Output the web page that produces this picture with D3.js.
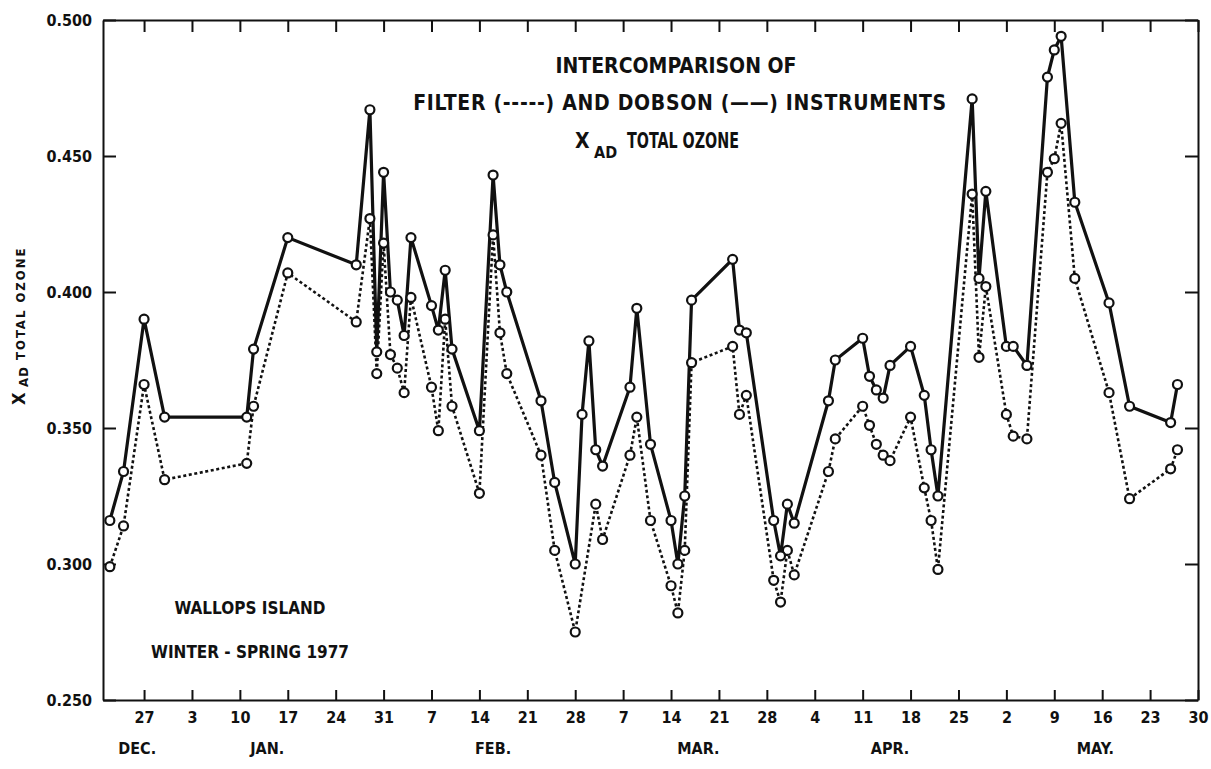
<!DOCTYPE html>
<html>
<head>
<meta charset="utf-8">
<script src="https://cdnjs.cloudflare.com/ajax/libs/d3/7.8.5/d3.min.js"></script>
<style>
  body { margin: 0; background: #fff; }
  svg text {
    font-family: "DejaVu Sans Condensed", "DejaVu Sans", sans-serif;
    font-stretch: condensed;
    font-weight: bold;
    fill: #111;
  }
</style>
</head>
<body>
<svg id="chart" width="1211" height="769"></svg>
<script>
// Dobson instrument (solid line)
var dobsonDates = [
  "1976-12-22", "1976-12-24", "1976-12-27", "1976-12-30", "1977-01-11", "1977-01-12",
  "1977-01-17", "1977-01-27", "1977-01-29", "1977-01-30", "1977-01-31", "1977-02-01",
  "1977-02-02", "1977-02-03", "1977-02-04", "1977-02-07", "1977-02-08", "1977-02-09",
  "1977-02-10", "1977-02-14", "1977-02-16", "1977-02-17", "1977-02-18", "1977-02-23",
  "1977-02-25", "1977-02-28", "1977-03-01", "1977-03-02", "1977-03-03", "1977-03-04",
  "1977-03-08", "1977-03-09", "1977-03-11", "1977-03-14", "1977-03-15", "1977-03-16",
  "1977-03-17", "1977-03-23", "1977-03-24", "1977-03-25", "1977-03-29", "1977-03-30",
  "1977-03-31", "1977-04-01", "1977-04-06", "1977-04-07", "1977-04-11", "1977-04-12",
  "1977-04-13", "1977-04-14", "1977-04-15", "1977-04-18", "1977-04-20", "1977-04-21",
  "1977-04-22", "1977-04-27", "1977-04-28", "1977-04-29", "1977-05-02", "1977-05-03",
  "1977-05-05", "1977-05-08", "1977-05-09", "1977-05-10", "1977-05-12", "1977-05-17",
  "1977-05-20", "1977-05-26", "1977-05-27"
];
var dobsonValues = [
  0.316, 0.334, 0.390, 0.354, 0.354, 0.379,
  0.420, 0.410, 0.467, 0.378, 0.444, 0.400,
  0.397, 0.384, 0.420, 0.395, 0.386, 0.408,
  0.379, 0.349, 0.443, 0.410, 0.400, 0.360,
  0.330, 0.300, 0.355, 0.382, 0.342, 0.336,
  0.365, 0.394, 0.344, 0.316, 0.300, 0.325,
  0.397, 0.412, 0.386, 0.385, 0.316, 0.303,
  0.322, 0.315, 0.360, 0.375, 0.383, 0.369,
  0.364, 0.361, 0.373, 0.380, 0.362, 0.342,
  0.325, 0.471, 0.405, 0.437, 0.380, 0.380,
  0.373, 0.479, 0.489, 0.494, 0.433, 0.396,
  0.358, 0.352, 0.366
];

// filter instrument (dotted line)
var filterDates = [
  "1976-12-22", "1976-12-24", "1976-12-27", "1976-12-30", "1977-01-11", "1977-01-12",
  "1977-01-17", "1977-01-27", "1977-01-29", "1977-01-30", "1977-01-31", "1977-02-01",
  "1977-02-02", "1977-02-03", "1977-02-04", "1977-02-07", "1977-02-08", "1977-02-09",
  "1977-02-10", "1977-02-14", "1977-02-16", "1977-02-17", "1977-02-18", "1977-02-23",
  "1977-02-25", "1977-02-28", "1977-03-03", "1977-03-04",
  "1977-03-08", "1977-03-09", "1977-03-11", "1977-03-14", "1977-03-15", "1977-03-16",
  "1977-03-17", "1977-03-23", "1977-03-24", "1977-03-25", "1977-03-29", "1977-03-30",
  "1977-03-31", "1977-04-01", "1977-04-06", "1977-04-07", "1977-04-11", "1977-04-12",
  "1977-04-13", "1977-04-14", "1977-04-15", "1977-04-18", "1977-04-20", "1977-04-21",
  "1977-04-22", "1977-04-27", "1977-04-28", "1977-04-29", "1977-05-02", "1977-05-03",
  "1977-05-05", "1977-05-08", "1977-05-09", "1977-05-10", "1977-05-12", "1977-05-17",
  "1977-05-20", "1977-05-26", "1977-05-27"
];
var filterValues = [
  0.299, 0.314, 0.366, 0.331, 0.337, 0.358,
  0.407, 0.389, 0.427, 0.370, 0.418, 0.377,
  0.372, 0.363, 0.398, 0.365, 0.349, 0.390,
  0.358, 0.326, 0.421, 0.385, 0.370, 0.340,
  0.305, 0.275, 0.322, 0.309,
  0.340, 0.354, 0.316, 0.292, 0.282, 0.305,
  0.374, 0.380, 0.355, 0.362, 0.294, 0.286,
  0.305, 0.296, 0.334, 0.346, 0.358, 0.351,
  0.344, 0.340, 0.338, 0.354, 0.328, 0.316,
  0.298, 0.436, 0.376, 0.402, 0.355, 0.347,
  0.346, 0.444, 0.449, 0.462, 0.405, 0.363,
  0.324, 0.335, 0.342
];

var weekTicks = [
  "1976-12-27", "1977-01-03", "1977-01-10", "1977-01-17", "1977-01-24", "1977-01-31",
  "1977-02-07", "1977-02-14", "1977-02-21", "1977-02-28", "1977-03-07", "1977-03-14",
  "1977-03-21", "1977-03-28", "1977-04-04", "1977-04-11", "1977-04-18", "1977-04-25",
  "1977-05-02", "1977-05-09", "1977-05-16", "1977-05-23", "1977-05-30"
];
var valueTicks = [0.250, 0.300, 0.350, 0.400, 0.450, 0.500];
var monthNames = ["DEC.", "JAN.", "FEB.", "MAR.", "APR.", "MAY."];
var monthDates = ["1976-12-26", "1977-01-14", "1977-02-16", "1977-03-18", "1977-04-15", "1977-05-15"];

var parseDate = d3.timeParse("%Y-%m-%d");

var svg = d3.select("#chart");

var plotLeft = 103, plotRight = 1198, plotTop = 20, plotBottom = 700;

var x = d3.scaleTime()
          .domain([parseDate("1976-12-21"), parseDate("1977-05-30")])
          .range([plotLeft, plotRight]);

var y = d3.scaleLinear()
          .domain([0.25, 0.5])
          .range([plotBottom, plotTop]);

var dobson = dobsonDates.map(function (d, i) {
    return { date: parseDate(d), value: dobsonValues[i] };
});
var filter = filterDates.map(function (d, i) {
    return { date: parseDate(d), value: filterValues[i] };
});
var ticks = weekTicks.map(parseDate);

// axes, ticks point into the plot
var xAxis = d3.axisBottom(x)
              .tickValues(ticks)
              .tickFormat(d3.timeFormat("%-d"))
              .tickSizeInner(-10)
              .tickSizeOuter(0)
              .tickPadding(12);

var xTop = d3.axisTop(x)
             .tickValues(ticks)
             .tickFormat("")
             .tickSizeInner(-12)
             .tickSizeOuter(0);

var yAxis = d3.axisLeft(y)
              .tickValues(valueTicks)
              .tickFormat(d3.format(".3f"))
              .tickSizeInner(-13)
              .tickSizeOuter(0)
              .tickPadding(11);

var yRight = d3.axisRight(y)
               .tickValues(valueTicks)
               .tickFormat("")
               .tickSizeInner(-13)
               .tickSizeOuter(0);

function styleAxis(g) {
    g.selectAll("path.domain").attr("stroke", "#111").attr("stroke-width", 2);
    g.selectAll(".tick line").attr("stroke", "#111").attr("stroke-width", 2);
    g.selectAll(".tick text")
     .attr("fill", "#111")
     .style("font-size", "16px");
}

svg.append("g")
   .attr("transform", "translate(0," + plotBottom + ")")
   .call(xAxis)
   .call(styleAxis);

svg.append("g")
   .attr("transform", "translate(0," + plotTop + ")")
   .call(xTop)
   .call(styleAxis);

svg.append("g")
   .attr("transform", "translate(" + plotLeft + ",0)")
   .call(yAxis)
   .call(styleAxis);

svg.append("g")
   .attr("transform", "translate(" + plotRight + ",0)")
   .call(yRight)
   .call(styleAxis);

// month names under the day numbers
svg.append("g")
   .selectAll("text")
   .data(monthNames)
   .enter().append("text")
   .attr("x", function (d, i) { return x(parseDate(monthDates[i])); })
   .attr("y", 754)
   .attr("text-anchor", "middle")
   .style("font-size", "16px")
   .text(function (d) { return d; });

// the two series
var line = d3.line()
             .x(function (d) { return x(d.date); })
             .y(function (d) { return y(d.value); });

svg.append("path")
   .datum(filter)
   .attr("d", line)
   .attr("fill", "none")
   .attr("stroke", "#111")
   .attr("stroke-width", 2.6)
   .attr("stroke-dasharray", "3,2.6");

svg.append("path")
   .datum(dobson)
   .attr("d", line)
   .attr("fill", "none")
   .attr("stroke", "#111")
   .attr("stroke-width", 3.2);

svg.append("g")
   .selectAll("circle")
   .data(filter.concat(dobson))
   .enter().append("circle")
   .attr("cx", function (d) { return x(d.date); })
   .attr("cy", function (d) { return y(d.value); })
   .attr("r", 4.5)
   .attr("fill", "#fff")
   .attr("stroke", "#111")
   .attr("stroke-width", 2.2);

// title
var title = svg.append("g").attr("text-anchor", "middle");
title.append("text")
     .attr("x", 676).attr("y", 73)
     .style("font-size", "21px")
     .text("INTERCOMPARISON OF");
title.append("text")
     .attr("x", 680).attr("y", 110)
     .style("font-size", "21px")
     .style("letter-spacing", "0.7px")
     .text("FILTER (-----) AND DOBSON (\u2014\u2014) INSTRUMENTS");

var sub = svg.append("g").style("font-size", "21px");
sub.append("text").attr("x", 575).attr("y", 148).text("X");
sub.append("text").attr("x", 594).attr("y", 158)
   .style("font-size", "16px").text("AD");
sub.append("text").attr("x", 627).attr("y", 148)
   .attr("textLength", 112).attr("lengthAdjust", "spacingAndGlyphs")
   .text("TOTAL OZONE");

// y axis title, rotated
var yt = svg.append("text")
            .attr("transform", "translate(25,405) rotate(-90)")
            .attr("text-anchor", "start");
yt.append("tspan").style("font-size", "18px").text("X ");
yt.append("tspan").attr("dy", 3).style("font-size", "13px")
  .style("letter-spacing", "1px").text("AD");
yt.append("tspan").attr("dy", -3).style("font-size", "13px")
  .style("letter-spacing", "2px").text("  TOTAL OZONE");

// station note
var note = svg.append("g").attr("text-anchor", "middle");
note.append("text")
    .attr("x", 250).attr("y", 614)
    .style("font-size", "17px")
    .text("WALLOPS ISLAND");
note.append("text")
    .attr("x", 250).attr("y", 658)
    .style("font-size", "17px")
    .text("WINTER - SPRING 1977");
</script>
</body>
</html>
